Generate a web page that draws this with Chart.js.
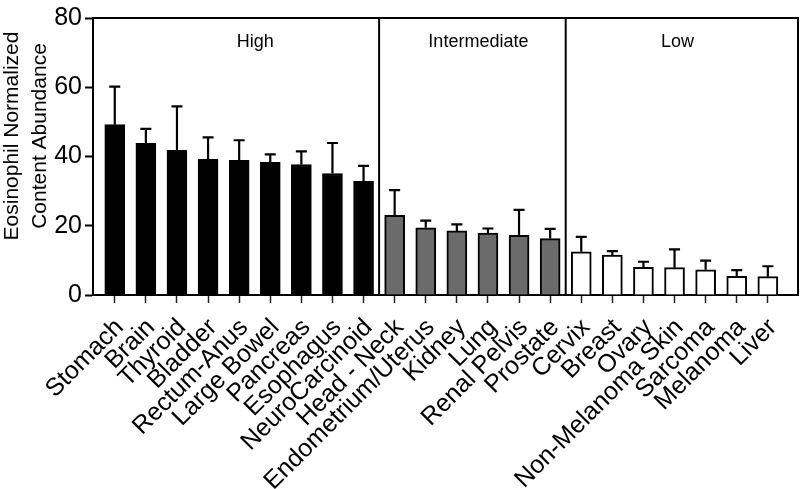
<!DOCTYPE html>
<html>
<head>
<meta charset="utf-8">
<script src="https://cdn.jsdelivr.net/npm/chart.js@4"></script>
<style>
  html, body { margin:0; padding:0; background:#fff; }
  #wrap { width:800px; height:489px; }
</style>
</head>
<body>
<div id="wrap"><canvas id="chart" width="800" height="489"></canvas></div>
<script>
// categorias y valores (media + barra de error superior)
const categories = ['Stomach','Brain','Thyroid','Bladder','Rectum-Anus','Large Bowel','Pancreas','Esophagus','NeuroCarcinoid',
  'Head - Neck','Endometrium/Uterus','Kidney','Lung','Renal Pelvis','Prostate',
  'Cervix','Breast','Ovary','Non-Melanoma Skin','Sarcoma','Melanoma','Liver'];
const means = [49.2,43.8,41.8,39.2,38.9,38.3,37.7,35.1,32.8, 23.0,19.4,18.5,17.9,17.2,16.3, 12.5,11.5,8.0,7.9,7.3,5.4,5.3];
const errors = [11.0,4.2,12.7,6.3,5.8,2.3,3.8,8.8,4.5, 7.3,2.1,1.9,1.3,7.4,2.8, 4.3,1.2,1.6,5.3,2.6,1.8,3.0];
const groupNames = ['High','Intermediate','Low'];
const groupSizes = [9,6,7];
const groupColors = ['#000000','#6b6b6b','#ffffff'];
const yTicks = [0,20,40,60,80];

const FONT = "'Liberation Sans', Arial, sans-serif";

// color de cada barra segun su grupo
const barColors = [];
groupSizes.forEach((n,g)=>{ for(let i=0;i<n;i++) barColors.push(groupColors[g]); });

// barras de error + marco + separadores + nombres de grupo
const extras = {
  id: 'extras',
  afterDatasetsDraw(chart){
    const {ctx, chartArea:a, scales:{x,y}} = chart;
    ctx.save();
    ctx.strokeStyle = '#000';
    ctx.lineWidth = 2.2;
    means.forEach((m,i)=>{
      const px = x.getPixelForValue(i);
      const y0 = y.getPixelForValue(m);
      const y1 = y.getPixelForValue(m + errors[i]);
      ctx.beginPath();
      ctx.moveTo(px, y0); ctx.lineTo(px, y1);
      ctx.moveTo(px-5.5, y1); ctx.lineTo(px+5.5, y1);
      ctx.stroke();
    });
    // marco superior / derecho
    ctx.lineWidth = 2;
    ctx.beginPath();
    ctx.moveTo(a.left, a.top); ctx.lineTo(a.right, a.top); ctx.lineTo(a.right, a.bottom);
    ctx.stroke();
    // separadores de grupos y nombres
    let start = 0;
    ctx.fillStyle = '#000';
    ctx.font = '18px ' + FONT;
    ctx.textAlign = 'center'; ctx.textBaseline = 'middle';
    groupSizes.forEach((n,g)=>{
      const end = start + n;
      if(g < groupSizes.length-1){
        const px = x.getPixelForValue(end - 0.5);
        ctx.beginPath(); ctx.moveTo(px, a.top); ctx.lineTo(px, a.bottom); ctx.stroke();
      }
      // etiqueta un poco a la derecha del centro del grupo
      const cx = (x.getPixelForValue(start - 0.5) + x.getPixelForValue(end - 0.5))/2 + [16,6,3][g];
      ctx.fillText(groupNames[g], cx, a.top + 24);
      start = end;
    });
    // titulo eje Y (dos lineas)
    ctx.font = '21px ' + FONT;
    ctx.translate(0, 136);
    ctx.rotate(-Math.PI/2);
    ctx.fillText('Eosinophil Normalized', 0, 12);
    ctx.fillText('Content Abundance', 0, 40);
    ctx.restore();
  }
};

new Chart(document.getElementById('chart'), {
  type: 'bar',
  data: {
    datasets: [{
      data: means.map((v,i)=>({x:i, y:v})),
      backgroundColor: barColors,
      borderColor: '#000',
      borderWidth: 2,
      barThickness: 20
    }]
  },
  options: {
    responsive: false,
    animation: false,
    devicePixelRatio: 1,
    layout: { padding: { top: 3, right: 2, left: 0, bottom: 0 } },
    plugins: { legend: { display:false }, tooltip: { enabled:false } },
    scales: {
      x: {
        type: 'linear',
        offset: false,
        min: -0.7, max: 21.97,
        afterBuildTicks: s => { s.ticks = categories.map((c,i)=>({value:i})); },
        afterFit: s => { s.height = 194; },
        grid: { offset:false, drawOnChartArea:false, drawTicks:true, tickLength:8, tickColor:'#222', tickWidth:1.5 },
        border: { color:'#000', width:2 },
        ticks: {
          autoSkip: false,
          minRotation: 45, maxRotation: 45,
          color: '#000',
          padding: 10,
          labelOffset: 5,
          font: { family: FONT, size: 25 },
          callback: v => categories[v]
        }
      },
      y: {
        min: 0, max: 80,
        afterBuildTicks: s => { s.ticks = yTicks.map(v=>({value:v})); },
        afterFit: s => { s.width = 93; },
        grid: { drawOnChartArea:false, tickLength:8, tickColor:'#000', tickWidth:2 },
        border: { color:'#000', width:2 },
        ticks: { color:'#000', padding:3, font: { family: FONT, size: 25 } }
      }
    }
  },
  plugins: [extras]
});
</script>
</body>
</html>
